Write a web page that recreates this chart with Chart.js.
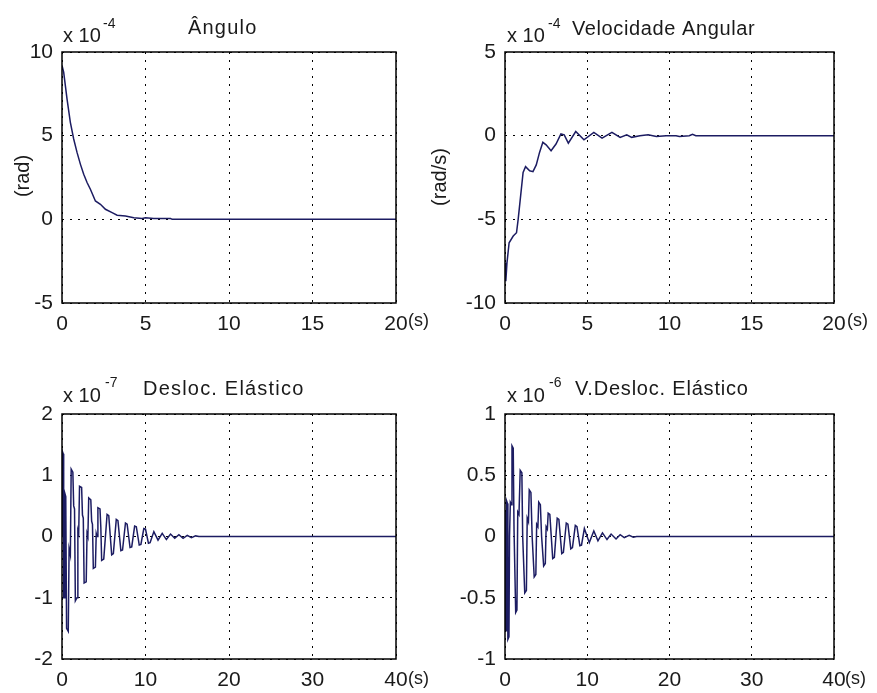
<!DOCTYPE html>
<html>
<head>
<meta charset="utf-8">
<title>Resposta do sistema</title>
<script src="https://cdn.jsdelivr.net/npm/chart.js@4.4.0/dist/chart.umd.min.js"></script>
<style>
  html, body { margin: 0; padding: 0; background: #fff; }
  #fig { position: relative; width: 877px; height: 693px; overflow: hidden; background: #fff; }
  #fig canvas { position: absolute; }
</style>
</head>
<body>
<div id="fig">
  <canvas id="c1" width="440" height="346" style="left:0px;top:0px"></canvas>
  <canvas id="c2" width="459" height="346" style="left:418px;top:0px"></canvas>
  <canvas id="c3" width="440" height="347" style="left:0px;top:346px"></canvas>
  <canvas id="c4" width="459" height="347" style="left:418px;top:346px"></canvas>
</div>
<script>
// Ângulo (x 1e-4 rad)
const anguloT = [0, 0.1, 0.3, 0.5, 0.7, 0.9, 1.1, 1.3, 1.5, 1.7, 2.0, 2.3, 2.6, 3.0, 3.3, 3.8, 4.3, 4.8, 5.0, 5.5, 6.5, 6.6, 20];
const anguloV = [9.2, 8.8, 7.2, 5.8, 4.8, 4.0, 3.3, 2.7, 2.2, 1.8, 1.1, 0.9, 0.6, 0.4, 0.25, 0.2, 0.1, 0.05, 0.1, 0.05, 0.05, 0, 0];

// Velocidade angular (x 1e-4 rad/s)
const velT = [0, 0.05, 0.12, 0.25, 0.5, 0.7, 0.8, 0.95, 1.1, 1.25, 1.5, 1.7, 1.9, 2.1, 2.3, 2.5, 2.8, 3.1, 3.4, 3.6,
  3.85, 4.3, 4.8, 5.4, 5.9, 6.5, 7.0, 7.4, 7.7, 8.2, 8.7, 9.2, 9.8, 10.4, 10.6, 11.2, 11.4, 11.6, 20];
const velV = [-7.6, -8.7, -7.6, -6.4, -6.0, -5.8, -5.0, -3.6, -2.2, -1.85, -2.1, -2.15, -1.75, -1.0, -0.4, -0.55, -0.9, -0.5, 0.1, 0.05,
  -0.45, 0.25, -0.25, 0.2, -0.15, 0.2, -0.1, 0.05, -0.1, 0.0, 0.05, -0.05, 0.0, 0.0, -0.05, 0.0, 0.08, 0, 0];

// Deslocamento elástico (x 1e-7)
const deslT = [0, 0.02, 0.15, 0.2, 0.3, 0.35, 0.45, 0.55, 0.75, 0.85, 1.0, 1.1, 1.3, 1.4, 1.5, 1.6, 1.8, 1.9, 2.0, 2.1,
  2.35, 2.45, 2.55, 2.65, 2.9, 3.0, 3.1, 3.2, 3.45, 3.55, 3.65, 3.75, 4.0, 4.1, 4.2, 4.3, 4.55, 4.65, 4.75, 5.0,
  5.4, 5.6, 5.95, 6.15, 6.5, 6.7, 7.05, 7.25, 7.6, 7.8, 8.15, 8.35, 8.7, 8.9, 9.25, 9.45, 9.8, 10.0, 10.35, 10.55,
  11.0, 11.5, 12.0, 12.5, 13.0, 13.5, 14.0, 14.5, 15.0, 15.5, 16.0, 16.4, 40];
const deslV = [0, 1.4, 1.35, -1.0, -1.0, 0.7, 0.65, -1.5, -1.55, -0.2, -0.3, 1.1, 1.05, 0.5, 0.45, -1.05, -1.0, 0.1, 0.05, 0.82,
  0.8, 0.35, 0.3, -0.76, -0.74, 0.05, 0.0, 0.63, 0.6, 0.25, 0.2, -0.52, -0.5, 0.05, 0.0, 0.47, 0.45, 0.15, -0.39, -0.37,
  0.36, 0.34, -0.3, -0.28, 0.28, 0.26, -0.23, -0.22, 0.22, 0.2, -0.18, -0.17, 0.17, 0.16, -0.14, -0.13, 0.13, 0.12, -0.11, -0.1,
  0.08, -0.06, 0.05, -0.05, 0.04, -0.03, 0.03, -0.03, 0.02, -0.02, 0.01, 0, 0];

// Velocidade do deslocamento elástico (x 1e-6)
const vdeslT = [0, 0.03, 0.15, 0.2, 0.3, 0.35, 0.48, 0.55, 0.65, 0.8, 0.85, 1.0, 1.1, 1.3, 1.45, 1.55, 1.7, 1.85, 2.05, 2.15,
  2.4, 2.6, 2.7, 2.85, 2.95, 3.15, 3.3, 3.55, 3.75, 3.85, 4.0, 4.1, 4.3, 4.45, 4.7, 4.9, 5.0, 5.15, 5.25, 5.45,
  5.8, 6.0, 6.35, 6.55, 6.9, 7.1, 7.45, 7.65, 8.0, 8.2, 8.55, 8.75, 9.1, 9.3, 9.65,
  10.25, 10.8, 11.3, 11.85, 12.4, 12.9, 13.5, 14.0, 14.5, 15.1, 15.6, 16.0, 40];
const vdeslV = [0.2, -0.75, -0.77, 0.29, 0.27, -0.84, -0.82, 0.0, 0.28, 0.26, 0.74, 0.72, 0.05, -0.62, -0.6, 0.2, 0.18, 0.54, 0.52, 0.0,
  -0.46, -0.44, 0.15, 0.12, 0.38, 0.36, 0.0, -0.33, -0.31, 0.1, 0.08, 0.28, 0.26, 0.0, -0.24, -0.22, 0.08, 0.06, 0.19, 0.18,
  -0.18, -0.17, 0.15, 0.14, -0.14, -0.13, 0.11, 0.1, -0.1, -0.09, 0.09, 0.08, -0.075, -0.07, 0.065,
  -0.05, 0.045, -0.035, 0.03, -0.025, 0.02, -0.02, 0.015, -0.01, 0.01, -0.005, 0, 0];

const xTicks20 = [0, 5, 10, 15, 20];
const xTicks40 = [0, 10, 20, 30, 40];
const anguloTicks = [-5, 0, 5, 10];
const velTicks = [-10, -5, 0, 5];
const deslTicks = [-2, -1, 0, 1, 2];
const vdeslTicks = [-1, -0.5, 0, 0.5, 1];

const FONT = '"Liberation Sans", Arial, Helvetica, sans-serif';
const INK = '#1a1a1a';
const LINE = '#1c1c62';

// box around the plot area plus titles, exponents and unit labels
const frame = {
  id: 'frame',
  afterDraw(chart, args, opts) {
    const ctx = chart.ctx, a = chart.chartArea;
    const ox = chart.canvas.offsetLeft, oy = chart.canvas.offsetTop;
    ctx.save();
    ctx.strokeStyle = '#000';
    ctx.lineWidth = 1.5;
    ctx.strokeRect(a.left, a.top, a.right - a.left, a.bottom - a.top);
    ctx.fillStyle = INK;
    ctx.textBaseline = 'alphabetic';
    (opts.texts || []).forEach(t => {
      ctx.save();
      ctx.font = t.size + 'px ' + FONT;
      ctx.letterSpacing = (t.ls || 0) + 'px';
      if (t.rot) {
        ctx.translate(t.x - ox, t.y - oy);
        ctx.rotate(-Math.PI / 2);
        ctx.textAlign = 'center';
        ctx.fillText(t.s, 0, 0);
      } else {
        ctx.textAlign = 'left';
        ctx.fillText(t.s, t.x - ox, t.y - oy);
      }
      ctx.restore();
    });
    ctx.restore();
  }
};

const panels = [
  { id: 'c1', left: 0, top: 0, w: 440, h: 346, area: [62, 52, 396, 303],
    t: anguloT, v: anguloV, xTicks: xTicks20, yTicks: anguloTicks,
    texts: [
      { s: 'x 10', x: 63, y: 42, size: 20 },
      { s: '-4', x: 103, y: 28, size: 14 },
      { s: 'Ângulo', x: 188, y: 34, size: 20, ls: 1.2 },
      { s: '(s)', x: 408, y: 326, size: 18 },
      { s: '(rad)', x: 29, y: 176, size: 20, rot: true }
    ] },
  { id: 'c2', left: 418, top: 0, w: 459, h: 346, area: [505, 52, 834, 303],
    t: velT, v: velV, xTicks: xTicks20, yTicks: velTicks,
    texts: [
      { s: 'x 10', x: 507, y: 42, size: 20 },
      { s: '-4', x: 548, y: 28, size: 14 },
      { s: 'Velocidade Angular', x: 572, y: 35, size: 20, ls: 0.6 },
      { s: '(s)', x: 847, y: 326, size: 18 },
      { s: '(rad/s)', x: 446, y: 177, size: 20, rot: true }
    ] },
  { id: 'c3', left: 0, top: 346, w: 440, h: 347, area: [62, 414, 396, 659],
    t: deslT, v: deslV, xTicks: xTicks40, yTicks: deslTicks,
    texts: [
      { s: 'x 10', x: 63, y: 402, size: 20 },
      { s: '-7', x: 105, y: 387, size: 14 },
      { s: 'Desloc. Elástico', x: 143, y: 395, size: 20, ls: 1.2 },
      { s: '(s)', x: 408, y: 684, size: 18 }
    ] },
  { id: 'c4', left: 418, top: 346, w: 459, h: 347, area: [505, 414, 834, 659],
    t: vdeslT, v: vdeslV, xTicks: xTicks40, yTicks: vdeslTicks,
    texts: [
      { s: 'x 10', x: 507, y: 402, size: 20 },
      { s: '-6', x: 549, y: 387, size: 14 },
      { s: 'V.Desloc. Elástico', x: 575, y: 395, size: 20, ls: 0.8 },
      { s: '(s)', x: 845, y: 684, size: 18 }
    ] }
];

const Y_W = 50, X_H = 30;

function axis(list, extra) {
  return Object.assign({
    type: 'linear',
    min: list[0],
    max: list[list.length - 1],
    afterBuildTicks: s => { s.ticks = list.map(v => ({ value: v })); },
    grid: { color: '#000', lineWidth: 1, drawTicks: false },
    border: { display: false, dash: [2, 6] },
    ticks: {
      color: INK,
      font: { family: FONT, size: 21 },
      autoSkip: false,
      maxRotation: 0,
      callback: v => String(v)
    }
  }, extra);
}

panels.forEach(p => {
  const [L, T, R, B] = p.area;
  const pad = {
    left: L - p.left - Y_W,
    top: T - p.top,
    right: p.left + p.w - R,
    bottom: p.top + p.h - B - X_H
  };
  const x = axis(p.xTicks, { afterFit: s => { s.height = X_H; } });
  x.ticks.padding = 9;
  const y = axis(p.yTicks, { afterFit: s => { s.width = Y_W; } });
  y.ticks.padding = 9;

  new Chart(document.getElementById(p.id), {
    type: 'line',
    data: {
      datasets: [{
        data: p.t.map((tt, i) => ({ x: tt, y: p.v[i] })),
        borderColor: LINE,
        borderWidth: 1.5,
        pointRadius: 0,
        tension: 0,
        fill: false
      }]
    },
    options: {
      responsive: false,
      animation: false,
      devicePixelRatio: 1,
      events: [],
      layout: { padding: pad },
      plugins: {
        legend: { display: false },
        tooltip: { enabled: false },
        frame: { texts: p.texts }
      },
      scales: { x: x, y: y }
    },
    plugins: [frame]
  });
});
</script>
</body>
</html>
